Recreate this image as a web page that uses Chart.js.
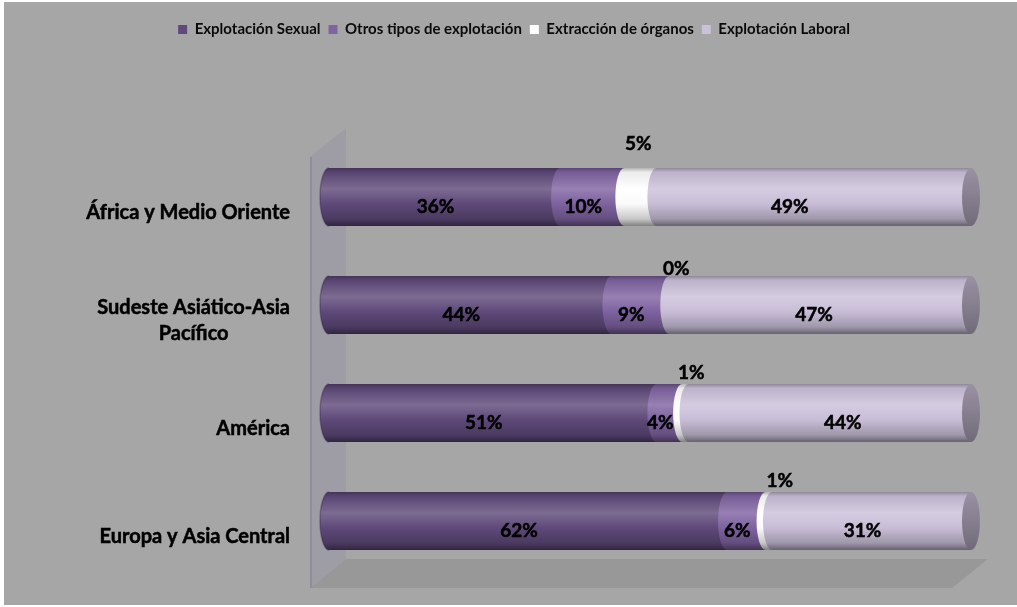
<!DOCTYPE html>
<html lang="es">
<head>
<meta charset="utf-8">
<title>Formas de explotación por región</title>
<script src="https://cdn.jsdelivr.net/npm/chart.js@4.4.1/dist/chart.umd.min.js"></script>
<style>
  html, body { margin: 0; padding: 0; background: #ffffff; }
  #chart { display: block; }
</style>
</head>
<body>
<canvas id="chart" width="1017" height="607"></canvas>
<script>
// Regions (multi-line labels are arrays of lines)
const categories = [
  ["África y Medio Oriente"],
  ["Sudeste Asiático-Asia", "Pacífico"],
  ["América"],
  ["Europa y Asia Central"]
];

// Share of each form of exploitation, in percent
const explotacionSexual  = [36, 44, 51, 62];
const otrosTipos         = [10, 9, 4, 6];
const extraccionOrganos  = [5, 0, 1, 1];
const explotacionLaboral = [49, 47, 44, 31];

const seriesNames = [
  "Explotación Sexual",
  "Otros tipos de explotación",
  "Extracción de órganos",
  "Explotación Laboral"
];
const seriesColors = ["#604a7b", "#8064a2", "#ffffff", "#ccc1da"];

// Label placement tweaks (px), per region
const outsideNudge = [[-2, -24], [7, -7], [6, -11], [11, -11]];
const laboralNudge = [-15, 3, 22, 0];

const FONT = 'Lato, "Open Sans", "DejaVu Sans", sans-serif';
const CAP_RX = 9;   // horizontal radius of the cylinder ends

function hexToRgb(h) {
  h = h.replace('#', '');
  return [0, 2, 4].map(i => parseInt(h.substr(i, 2), 16));
}
function mix(c, t, k) {
  const a = hexToRgb(c), b = hexToRgb(t);
  return 'rgb(' + a.map((v, i) => Math.round(v + (b[i] - v) * k)).join(',') + ')';
}
function bodyGradient(ctx, top, bottom, c) {
  const g = ctx.createLinearGradient(0, top, 0, bottom);
  g.addColorStop(0.00, mix(c, '#000000', 0.30));
  g.addColorStop(0.07, mix(c, '#000000', 0.08));
  g.addColorStop(0.36, mix(c, '#ffffff', 0.18));
  g.addColorStop(0.62, mix(c, '#000000', 0.02));
  g.addColorStop(0.88, mix(c, '#000000', 0.22));
  g.addColorStop(1.00, mix(c, '#000000', 0.50));
  return g;
}

function drawWalls(ctx, a) {
  const fx = a.left - 19, dx = 36, dy = -29;
  const fTop = a.top + 14, fBot = a.bottom + 13, fRight = a.right - 19;
  ctx.save();
  // floor
  ctx.beginPath();
  ctx.moveTo(fx, fBot);
  ctx.lineTo(fRight, fBot);
  ctx.lineTo(fRight + dx, fBot + dy);
  ctx.lineTo(fx + dx, fBot + dy);
  ctx.closePath();
  ctx.fillStyle = '#989898';
  ctx.fill();
  // side wall
  ctx.beginPath();
  ctx.moveTo(fx, fBot);
  ctx.lineTo(fx, fTop);
  ctx.lineTo(fx + dx, fTop + dy);
  ctx.lineTo(fx + dx, fBot + dy);
  ctx.closePath();
  ctx.fillStyle = '#9e9da5';
  ctx.fill();
  ctx.fillStyle = '#908f97';
  ctx.fillRect(fx, fTop, 2, fBot - fTop);
  ctx.restore();
}

const backgroundPlugin = {
  id: 'panel',
  beforeDraw(chart) {
    const ctx = chart.ctx;
    ctx.save();
    ctx.fillStyle = '#ffffff';
    ctx.fillRect(0, 0, chart.width, chart.height);
    ctx.fillStyle = '#a6a6a6';
    ctx.fillRect(4, 2, chart.width - 4, chart.height - 4);
    ctx.restore();
  }
};

function boldText(ctx, t, x, y) {
  ctx.fillText(t, x, y);
  ctx.strokeText(t, x, y);
}

// Draws each stacked segment as a piece of a horizontal cylinder
const cylinderPlugin = {
  id: 'cylinders',
  beforeDatasetsDraw(chart) {
    const ctx = chart.ctx;
    drawWalls(ctx, chart.chartArea);
    const metas = chart.getSortedVisibleDatasetMetas();
    const n = chart.data.labels.length;
    ctx.save();
    for (let i = 0; i < n; i++) {
      let last = null;
      metas.forEach((meta, k) => {
        const el = meta.data[i];
        const p = el.getProps(['x', 'base', 'y', 'height'], true);
        const color = chart.data.datasets[meta.index].backgroundColor;
        const top = p.y - p.height / 2, bottom = p.y + p.height / 2;
        const ry = p.height / 2;
        if (Math.abs(p.x - p.base) > 0.01) {
          ctx.beginPath();
          ctx.moveTo(p.base, top);
          ctx.ellipse(p.base, p.y, CAP_RX, ry, 0, -Math.PI / 2, Math.PI / 2, true);
          ctx.lineTo(p.x, bottom);
          ctx.lineTo(p.x, top);
          ctx.closePath();
          ctx.fillStyle = bodyGradient(ctx, top, bottom, color);
          ctx.fill();
          if (k === 0) {
            ctx.beginPath();
            ctx.ellipse(p.base, p.y, CAP_RX, ry, 0, -Math.PI / 2, Math.PI / 2, true);
            ctx.strokeStyle = 'rgba(40,30,60,0.35)';
            ctx.lineWidth = 1.5;
            ctx.stroke();
          }
        }
        last = { x: p.x, y: p.y, ry, color };
      });
      if (last) {
        const g = ctx.createLinearGradient(0, last.y - last.ry, 0, last.y + last.ry);
        g.addColorStop(0, mix(last.color, '#000000', 0.25));
        g.addColorStop(0.4, mix(last.color, '#000000', 0.32));
        g.addColorStop(1, mix(last.color, '#000000', 0.45));
        ctx.beginPath();
        ctx.ellipse(last.x, last.y, CAP_RX, last.ry, 0, 0, Math.PI * 2);
        ctx.fillStyle = g;
        ctx.fill();
      }
    }
    ctx.restore();
    return false;
  },
  afterDraw(chart) {
    const ctx = chart.ctx;
    ctx.save();
    ctx.fillStyle = '#000000';
    ctx.strokeStyle = '#000000';
    ctx.lineWidth = 0.5;
    ctx.textAlign = 'center';
    ctx.textBaseline = 'middle';
    // value labels
    ctx.font = 'bold 19px ' + FONT;
    chart.getSortedVisibleDatasetMetas().forEach(meta => {
      const ds = chart.data.datasets[meta.index];
      meta.data.forEach((el, i) => {
        const p = el.getProps(['x', 'base', 'y', 'height'], true);
        const cx = (p.x + p.base) / 2;
        let lx, ly;
        if (ds.labelOutside) {
          lx = cx + outsideNudge[i][0];
          ly = p.y - p.height / 2 + outsideNudge[i][1];
        } else {
          lx = cx - 9 + (meta.index === 3 ? laboralNudge[i] : 0);
          ly = p.y + 10;
        }
        boldText(ctx, ds.data[i] + '%', lx, ly);
      });
    });
    // region labels, lines centred on each other, block right-aligned
    const yScale = chart.scales.y;
    const right = chart.chartArea.left - 39;
    ctx.font = 'bold 20px ' + FONT;
    chart.data.labels.forEach((lines, i) => {
      const w = Math.max(...lines.map(t => ctx.measureText(t).width));
      const cx = right - w / 2;
      const cy = yScale.getPixelForTick(i) + 16;
      const lh = 26;
      lines.forEach((t, j) => {
        boldText(ctx, t, cx, cy + (j - (lines.length - 1) / 2) * lh);
      });
    });
    ctx.restore();
  }
};

const datasets = [explotacionSexual, otrosTipos, extraccionOrganos, explotacionLaboral].map((d, i) => ({
  label: seriesNames[i],
  data: d,
  backgroundColor: seriesColors[i],
  borderWidth: 0,
  barThickness: 58,
  labelOutside: i === 2
}));

new Chart(document.getElementById('chart'), {
  type: 'bar',
  data: { labels: categories, datasets },
  options: {
    indexAxis: 'y',
    responsive: false,
    animation: false,
    events: [],
    layout: { padding: { left: 57, right: 46, top: 14, bottom: 32 } },
    scales: {
      x: {
        stacked: true, min: 0, max: 100, position: 'top',
        grid: { display: false }, border: { display: false },
        ticks: { display: false },
        afterFit: s => { s.height = 96; }
      },
      y: {
        stacked: true,
        grid: { display: false }, border: { display: false },
        ticks: { display: false },
        afterFit: s => { s.width = 272; }
      }
    },
    plugins: {
      tooltip: { enabled: false },
      legend: {
        position: 'top',
        labels: {
          boxWidth: 9, boxHeight: 9, padding: 8,
          color: '#0a0a0a',
          font: { family: FONT, size: 15, weight: 'bold' }
        }
      }
    }
  },
  plugins: [backgroundPlugin, cylinderPlugin]
});
</script>
</body>
</html>
